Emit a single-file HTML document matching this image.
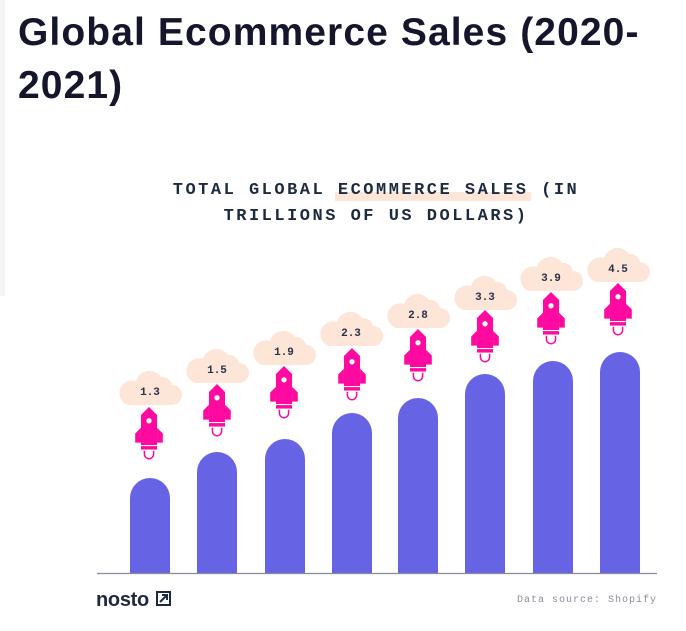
<!DOCTYPE html>
<html><head><meta charset="utf-8"><style>
html,body{margin:0;padding:0;background:#fff;width:686px;height:631px;overflow:hidden}
.strip{position:absolute;left:0;top:0;width:5px;height:296px;background:#f4f4f6}
h1{position:absolute;left:18px;top:6px;margin:0;font:bold 39px/53px "Liberation Sans",sans-serif;color:#15152b;letter-spacing:1.1px;width:668px;white-space:nowrap}
</style></head><body>
<div class="strip"></div>
<h1>Global Ecommerce Sales (2020-<br>2021)</h1>
<svg width="686" height="631" style="position:absolute;left:0;top:0">
<defs>
<g id="cloud"><path d="M-22,16 h44 a10,10 0 0 0 0,-20 a10,10 0 0 0 -11,-8 a14,14 0 0 0 -25,4 a12,12 0 0 0 -8,24 z" fill="#fde6d8"/></g>
<g id="rocket" transform="scale(1.15)">
<path d="M0,0 l7,7 v26 h-14 v-26 z" fill="#ff0aa0"/>
<path d="M-7,18 l-5,5 v8 h5 z M7,18 l5,5 v8 h-5 z" fill="#ff0aa0"/>
<rect x="-7" y="34" width="14" height="3" fill="#ff0aa0"/>
<circle cx="0" cy="12" r="2.3" fill="#fff"/>
<path d="M-4,38 v3 a4,4 0 0 0 8,0 v-3" fill="none" stroke="#ff0aa0" stroke-width="1.3"/>
</g>
</defs>
<rect x="335" y="192" width="196" height="9" fill="#fde6d8"/>
<g font-family="Liberation Mono,monospace" font-weight="bold" font-size="17" fill="#1e2a3e" text-anchor="middle" letter-spacing="2.5">
<text x="376" y="194">TOTAL GLOBAL ECOMMERCE SALES (IN</text>
<text x="376" y="220">TRILLIONS OF US DOLLARS)</text>
</g>
<g fill="#6663e4">
<path d="M130,573 V498 a20,20 0 0 1 40,0 V573z"/>
<path d="M197,573 V472 a20,20 0 0 1 40,0 V573z"/>
<path d="M265,573 V459 a20,20 0 0 1 40,0 V573z"/>
<path d="M332,573 V433 a20,20 0 0 1 40,0 V573z"/>
<path d="M398,573 V418 a20,20 0 0 1 40,0 V573z"/>
<path d="M465,573 V394 a20,20 0 0 1 40,0 V573z"/>
<path d="M533,573 V381 a20,20 0 0 1 40,0 V573z"/>
<path d="M600,573 V372 a20,20 0 0 1 40,0 V573z"/>
</g>
<line x1="97" y1="573.5" x2="657" y2="573.5" stroke="#888c99" stroke-width="1.2"/>
<g font-family="Liberation Mono,monospace" font-weight="bold" font-size="11" fill="#2a3248" text-anchor="middle">
<use href="#cloud" x="150" y="389"/><text x="150" y="395">1.3</text><use href="#rocket" x="149" y="407"/>
<use href="#cloud" x="217" y="367"/><text x="217" y="373">1.5</text><use href="#rocket" x="217" y="384"/>
<use href="#cloud" x="284" y="349"/><text x="284" y="355">1.9</text><use href="#rocket" x="284" y="366"/>
<use href="#cloud" x="351" y="330"/><text x="351" y="336">2.3</text><use href="#rocket" x="352" y="348"/>
<use href="#cloud" x="418" y="312"/><text x="418" y="318">2.8</text><use href="#rocket" x="418" y="329"/>
<use href="#cloud" x="485" y="294"/><text x="485" y="300">3.3</text><use href="#rocket" x="485" y="310"/>
<use href="#cloud" x="551" y="275"/><text x="551" y="281">3.9</text><use href="#rocket" x="551" y="292"/>
<use href="#cloud" x="618" y="266"/><text x="618" y="272">4.5</text><use href="#rocket" x="618" y="283"/>
</g>
<text x="96" y="606" font-family="Liberation Sans,sans-serif" font-weight="bold" font-size="20" fill="#1e2a3e" letter-spacing="-0.3">nosto</text>
<path d="M157,592 h13 v13 h-13z M160,602 l7,-7 M162,595 h5 v5" fill="none" stroke="#1e2a3e" stroke-width="2"/>
<text x="657" y="602" text-anchor="end" font-family="Liberation Mono,monospace" font-size="10" fill="#8a8e99" letter-spacing="1">Data source: Shopify</text>
</svg>
</body></html>
